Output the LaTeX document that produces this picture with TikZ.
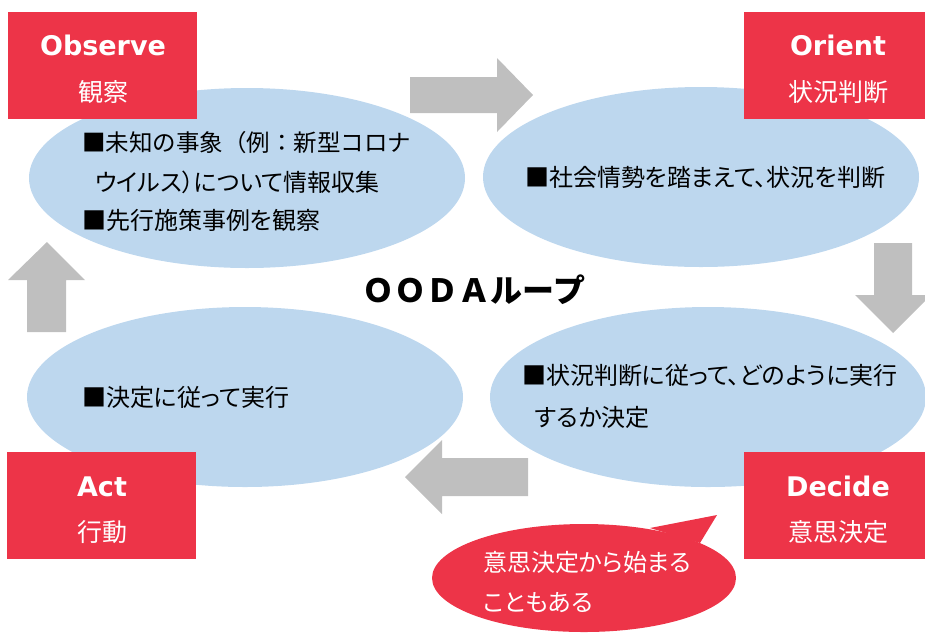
\documentclass[tikz,border=0pt]{standalone}
\usepackage{fontspec}
\usetikzlibrary{shapes.geometric}
\newfontfamily\jp{Noto Sans CJK JP}
\newfontfamily\jpp{Noto Sans CJK JP}[RawFeature=+palt]
\newfontfamily\lat{DejaVu Sans}
\definecolor{oodared}{RGB}{237,52,72}
\definecolor{oodablue}{RGB}{189,215,238}
\definecolor{oodagray}{RGB}{191,191,191}
\tikzset{
  phase/.style={ellipse, fill=oodablue, inner sep=0pt, minimum width=436pt, minimum height=180pt},
  redbox/.style={fill=oodared, inner sep=0pt, minimum width=189pt, minimum height=107pt},
  boxtitle/.style={anchor=base, text=white, inner sep=0pt, font=\lat\bfseries\fontsize{27}{30}\selectfont},
  boxsub/.style={anchor=base, text=white, inner sep=0pt, font=\jp\fontsize{25}{30}\selectfont},
  body/.style={anchor=base west, inner sep=0pt, font=\jp\fontsize{23.5}{28}\selectfont},
  bodyp/.style={anchor=base west, inner sep=0pt, font=\jpp\fontsize{24}{28}\selectfont},
  bubtext/.style={anchor=base west, inner sep=0pt, text=white, font=\jpp\fontsize{24}{28}\selectfont},
  blockarrow/.style={fill=oodagray}
}
\begin{document}
\begin{tikzpicture}[x=1pt,y=-1pt]
\useasboundingbox (0,0) rectangle (925,633);
% ellipses
\node[phase] (obsE) at (247,178) {};
\node[phase] (oriE) at (701,177) {};
\node[phase] (actE) at (245,397) {};
\node[phase] (decE) at (708,397) {};
% block arrows
\fill[blockarrow] (410,77) -- (497,77) -- (497,58) -- (533,95) -- (497,132) -- (497,113) -- (410,113) -- cycle;
\fill[blockarrow] (874,243) -- (912,243) -- (912,295) -- (931,295) -- (893,333) -- (855,295) -- (874,295) -- cycle;
\fill[blockarrow] (528,458) -- (442,458) -- (442,440) -- (405,477) -- (442,514) -- (442,496) -- (528,496) -- cycle;
\fill[blockarrow] (27,332) -- (27,280) -- (8,280) -- (47,242) -- (85,280) -- (66,280) -- (66,332) -- cycle;
% red boxes
\node[redbox] (obsB) at (102.5,65.5) {};
\node[redbox] (oriB) at (838.5,65.5) {};
\node[redbox] (actB) at (101.5,505.5) {};
\node[redbox] (decB) at (838.5,505.5) {};
\node[boxtitle] (obsT) at (103,55) {Observe};
\node[boxsub] (obsS) at (103,101) {観察};
\node[boxtitle] (oriT) at (838,55) {Orient};
\node[boxsub] (oriS) at (838,101) {状況判断};
\node[boxtitle] (actT) at (102,496) {Act};
\node[boxsub] (actS) at (102,541) {行動};
\node[boxtitle] (decT) at (838,496) {Decide};
\node[boxsub] (decS) at (838,541) {意思決定};
% body texts
\node[body] (obs1) at (82,151) {■未知の事象（例：新型コロナ};
\node[bodyp] (obs2) at (95,191) {ウイルス）について情報収集};
\node[bodyp] (obs3) at (82,229) {■先行施策事例を観察};
\node[bodyp] (ori1) at (525,186) {■社会情勢を踏まえて、状況を判断};
\node[bodyp] (act1) at (82,406) {■決定に従って実行};
\node[bodyp] (dec1) at (522,384) {■状況判断に従って、どのように実行};
\node[bodyp] (dec2) at (535,426) {するか決定};
% title
\node[inner sep=0pt, font=\jp\bfseries\fontsize{32}{36}\selectfont] (title) at (474,290) {ＯＯＤＡループ};
% speech bubble
\fill[oodared] (650,528) -- (717,515) -- (700,543) -- cycle;
\node[ellipse, fill=oodared, inner sep=0pt, minimum width=304pt, minimum height=108pt] (bub) at (584,578) {};
\node[bubtext] (bub1) at (483,571) {意思決定から始まる};
\node[bubtext] (bub2) at (483,611) {こともある};
\end{tikzpicture}
\end{document}
